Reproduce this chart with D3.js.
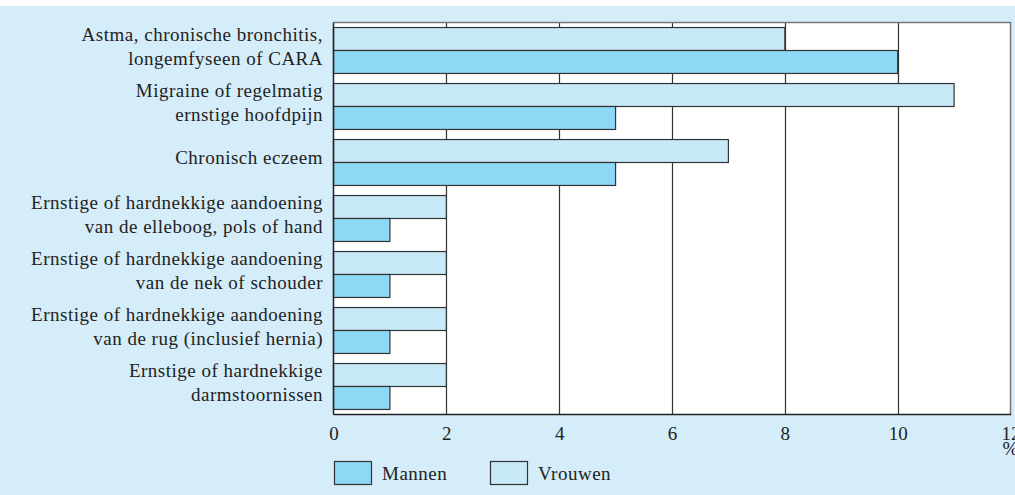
<!DOCTYPE html>
<html><head><meta charset="utf-8">
<script src="https://cdn.jsdelivr.net/npm/d3@7"></script>
<style>
html,body{margin:0;padding:0;background:#fff;}
svg{display:block;}
text{font-family:"Liberation Serif","DejaVu Serif",serif;fill:#222;}
</style></head><body>
<script>
const categories = [
  ["Astma, chronische bronchitis,", "longemfyseen of CARA"],
  ["Migraine of regelmatig", "ernstige hoofdpijn"],
  ["Chronisch eczeem"],
  ["Ernstige of hardnekkige aandoening", "van de elleboog, pols of hand"],
  ["Ernstige of hardnekkige aandoening", "van de nek of schouder"],
  ["Ernstige of hardnekkige aandoening", "van de rug (inclusief hernia)"],
  ["Ernstige of hardnekkige", "darmstoornissen"]
];
const vrouwen = [8, 11, 7, 2, 2, 2, 2];
const mannen = [10, 5, 5, 1, 1, 1, 1];
const xTicks = [0, 2, 4, 6, 8, 10, 12];
const seriesNames = ["Mannen", "Vrouwen"];

(function(){
const W = 1015, H = 495;
const FS = 19, LS = 0.5;
const svg = d3.select("body").append("svg").attr("width", W).attr("height", H);
svg.append("rect").attr("x", 0).attr("y", 6).attr("width", W).attr("height", H - 6).attr("fill", "#d5edf9");

const pL = 333.5, pR = 1010.5, pT = 22.5, pB = 414.5;
const x = d3.scaleLinear().domain([0, 12]).range([pL, pR]);
const y = d3.scaleBand().domain(d3.range(categories.length)).range([pT, pB]).paddingInner(0.18).paddingOuter(0.09);

svg.append("rect").attr("x", pL).attr("y", pT).attr("width", pR - pL).attr("height", pB - pT)
  .attr("fill", "#fff").attr("stroke", "none");

svg.append("g").selectAll("line").data(xTicks.filter(t => t > 0 && t < 12)).join("line")
  .attr("x1", d => Math.round(x(d)) + 0.5).attr("x2", d => Math.round(x(d)) + 0.5)
  .attr("y1", pT).attr("y2", pB).attr("stroke", "#333").attr("stroke-width", 1.2);

const bh = y.bandwidth() / 2;
const g = svg.append("g");
g.selectAll("rect.v").data(vrouwen).join("rect").attr("class", "v")
  .attr("x", x(0)).attr("y", (d, i) => y(i)).attr("width", d => x(d) - x(0)).attr("height", bh)
  .attr("fill", "#c8e9f8").attr("stroke", "#333").attr("stroke-width", 1.2);
g.selectAll("rect.m").data(mannen).join("rect").attr("class", "m")
  .attr("x", x(0)).attr("y", (d, i) => y(i) + bh).attr("width", d => x(d) - x(0)).attr("height", bh)
  .attr("fill", "#8dd8f5").attr("stroke", "#333").attr("stroke-width", 1.2);

svg.append("path").attr("d", `M${pL},${pT}H${pR}V${pB}`).attr("fill", "none").attr("stroke", "#777").attr("stroke-width", 1.5);
svg.append("line").attr("x1", pL).attr("x2", pR + 0.7).attr("y1", pB).attr("y2", pB).attr("stroke", "#222").attr("stroke-width", 1.5);
svg.append("line").attr("x1", pL).attr("x2", pL).attr("y1", pT).attr("y2", pB).attr("stroke", "#222").attr("stroke-width", 1.5);

const xa = svg.append("g").attr("transform", `translate(0,${pB})`)
  .call(d3.axisBottom(x).tickValues(xTicks).tickSize(0).tickPadding(12).tickFormat(d3.format("d")));
xa.select(".domain").remove();
xa.selectAll("text").attr("font-size", FS).attr("font-family", "Liberation Serif").attr("fill", "#222");
svg.append("text").attr("x", x(12)).attr("y", 455).attr("text-anchor", "middle").attr("font-size", FS).text("%");

const lab = svg.append("g");
categories.forEach((lines, i) => {
  const cy = y(i) + y.bandwidth() / 2;
  const t = lab.append("text").attr("text-anchor", "end").attr("font-size", FS).attr("letter-spacing", LS).attr("x", 323);
  const n = lines.length;
  lines.forEach((s, j) => {
    t.append("tspan").attr("x", 323).attr("y", cy + (n === 1 ? 1 : (j === 0 ? -10 : 14))).text(s);
  });
});

const legColors = ["#8dd8f5", "#c8e9f8"];
const legX = [334, 490];
seriesNames.forEach((s, i) => {
  svg.append("rect").attr("x", legX[i] + 0.5).attr("y", 461.5).attr("width", 37).attr("height", 23)
    .attr("fill", legColors[i]).attr("stroke", "#333").attr("stroke-width", 1.2);
  svg.append("text").attr("x", legX[i] + 48).attr("y", 480).attr("font-size", FS).attr("letter-spacing", LS).text(s);
});
})();
</script>
</body></html>
